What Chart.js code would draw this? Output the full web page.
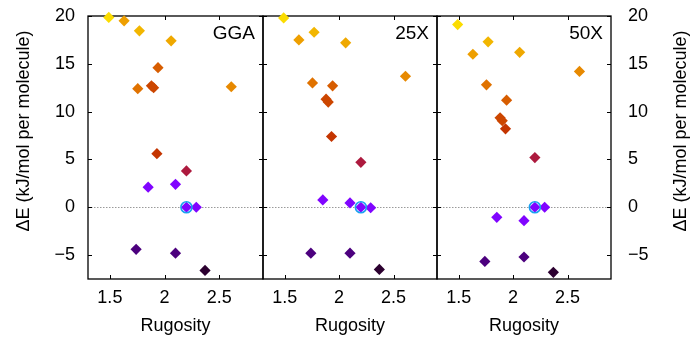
<!DOCTYPE html>
<html><head><meta charset="utf-8">
<script src="https://cdn.jsdelivr.net/npm/chart.js@4/dist/chart.umd.min.js"></script>
<style>
html,body{margin:0;padding:0;background:#fff;width:690px;height:339px;overflow:hidden}
canvas{position:absolute;left:0;top:0}
</style></head>
<body>
<canvas id="c0" width="690" height="339"></canvas>
<canvas id="c1" width="690" height="339"></canvas>
<canvas id="c2" width="690" height="339"></canvas>
<script>
// ---------- data ----------
const panelNames = ['GGA', '25X', '50X'];
const rugosity  = [1.49, 1.63, 1.77, 2.06, 2.61, 1.755, 1.94, 1.88, 1.90, 1.93, 2.20, 1.85, 2.10, 2.20, 2.29, 1.74, 2.10, 2.37];
const energyGGA = [19.85, 19.5, 18.45, 17.4, 12.6, 12.4, 14.6, 12.7, 12.5, 5.6, 3.8, 2.1, 2.4, 0, 0, -4.4, -4.8, -6.6];
const energy25X = [19.8, 17.5, 18.3, 17.2, 13.7, 13.0, 12.7, 11.3, 11.0, 7.4, 4.7, 0.77, 0.45, 0, -0.05, -4.8, -4.8, -6.5];
const energy50X = [19.1, 16.0, 17.3, 16.2, 14.2, 12.8, 11.2, 9.35, 9.05, 8.2, 5.2, -1.05, -1.4, 0, 0, -5.66, -5.2, -6.8];
const pointColors = ['#fbdc00', '#ee9f00', '#f2b600', '#efa800', '#e78900', '#e07200', '#d75d00', '#cc4600', '#cc4600',
                     '#c43500', '#ad1a3e', '#8004ff', '#8004ff', '#8004ff', '#8004ff', '#4c007e', '#4c007e', '#2c0030'];
const referenceX = [2.20];
const referenceY = [0];
const xTicks = [1.5, 2, 2.5];
const yTicks = [-5, 0, 5, 10, 15, 20];
const xRange = [1.3, 2.9];
const yRange = [-7.5, 20];
const xTitle = 'Rugosity';
const yTitle = 'ΔE (kJ/mol per molecule)';
const panelEnergies = [energyGGA, energy25X, energy50X];

// ---------- rendering ----------
Chart.defaults.font.family = "'Liberation Sans', Arial, Helvetica, sans-serif";
Chart.defaults.font.size = 18;
Chart.defaults.color = '#000';

const fmt = v => (v < 0 ? '\u2212' + Math.abs(v) : String(v));

const deco = {
  id: 'deco',
  beforeDatasetsDraw(chart, args, opts) {
    const {ctx, chartArea: a, scales: {x, y}} = chart;
    ctx.save();
    // zero reference line
    const y0 = Math.round(y.getPixelForValue(0)) + 0.5;
    ctx.strokeStyle = '#9a9a9a';
    ctx.lineWidth = 1;
    ctx.setLineDash([1.5, 1.5]);
    ctx.beginPath(); ctx.moveTo(a.left, y0); ctx.lineTo(a.right, y0); ctx.stroke();
    ctx.setLineDash([]);
    // inward ticks
    ctx.strokeStyle = '#000';
    ctx.lineWidth = 1;
    ctx.beginPath();
    y.ticks.forEach(t => {
      const p = Math.round(y.getPixelForValue(t.value)) + 0.5;
      ctx.moveTo(a.left, p); ctx.lineTo(a.left + 4, p);
      ctx.moveTo(a.right, p); ctx.lineTo(a.right - 4, p);
    });
    x.ticks.forEach(t => {
      const p = Math.round(x.getPixelForValue(t.value)) + 0.5;
      ctx.moveTo(p, a.bottom); ctx.lineTo(p, a.bottom - 4);
      ctx.moveTo(p, a.top); ctx.lineTo(p, a.top + 4);
    });
    ctx.stroke();
    // frame
    ctx.lineWidth = 1.3;
    ctx.strokeRect(a.left, a.top, a.right - a.left, a.bottom - a.top);
    // panel label
    ctx.font = "19px 'Liberation Sans', Arial, sans-serif";
    ctx.fillStyle = '#000';
    ctx.textAlign = 'right';
    ctx.textBaseline = 'alphabetic';
    ctx.fillText(opts.label, a.right - 8, a.top + 23);
    // side title
    if (opts.sideTitle) {
      ctx.font = "18px 'Liberation Sans', Arial, sans-serif";
      ctx.textAlign = 'center';
      ctx.textBaseline = 'middle';
      ctx.translate(opts.sideTitle === 'left' ? 24 : 681, 131);
      ctx.rotate(-Math.PI / 2);
      ctx.fillText(yTitle, 0, 0);
    }
    ctx.restore();
  }
};

const layoutPads = [[0, 427], [263, 253], [437, 0]];
const yAxisWidths = [88, 0, 79];

function noPad(s) { s.paddingLeft = 0; s.paddingRight = 0; s.paddingTop = 0; s.paddingBottom = 0; }

panelEnergies.forEach((energies, i) => {
  const points = rugosity.map((r, k) => ({x: r, y: energies[k]}));
  const ref = referenceX.map((r, k) => ({x: r, y: referenceY[k]}));
  new Chart(document.getElementById('c' + i), {
    type: 'scatter',
    data: {
      datasets: [
        {
          data: ref, order: 0, clip: false,
          pointStyle: 'circle', pointRadius: 5.5, pointHoverRadius: 5.5,
          backgroundColor: 'rgba(0,0,0,0)', borderColor: '#1aa0f0', borderWidth: 1.6
        },
        {
          data: points, order: 1, clip: false,
          pointStyle: 'rectRot', pointRadius: 5.6, pointHoverRadius: 5.6,
          backgroundColor: pointColors, borderColor: pointColors, borderWidth: 0
        }
      ]
    },
    options: {
      responsive: false,
      animation: false,
      events: [],
      layout: {padding: {left: layoutPads[i][0], right: layoutPads[i][1], top: 16, bottom: 0}},
      plugins: {
        legend: {display: false},
        tooltip: {enabled: false},
        deco: {label: panelNames[i], sideTitle: i === 0 ? 'left' : (i === 2 ? 'right' : null)}
      },
      scales: {
        x: {
          type: 'linear', min: xRange[0], max: xRange[1],
          afterBuildTicks: s => { s.ticks = xTicks.map(v => ({value: v})); },
          afterFit: s => { s.height = 60; noPad(s); },
          grid: {display: false, drawTicks: false},
          border: {display: false},
          ticks: {padding: 8, maxRotation: 0, autoSkip: false, callback: v => fmt(v), font: {size: 18}},
          title: {display: true, text: xTitle, font: {size: 18}, padding: {top: 0, bottom: 2}}
        },
        y: {
          type: 'linear', min: yRange[0], max: yRange[1],
          display: i !== 1,
          position: i === 2 ? 'right' : 'left',
          afterBuildTicks: s => { s.ticks = yTicks.map(v => ({value: v})); },
          afterFit: s => { s.width = yAxisWidths[i]; noPad(s); },
          grid: {display: false, drawTicks: false},
          border: {display: false},
          ticks: {padding: i === 0 ? 13 : 17, autoSkip: false, callback: v => fmt(v), font: {size: 18}}
        }
      }
    },
    plugins: [deco]
  });
});
</script>
</body></html>
